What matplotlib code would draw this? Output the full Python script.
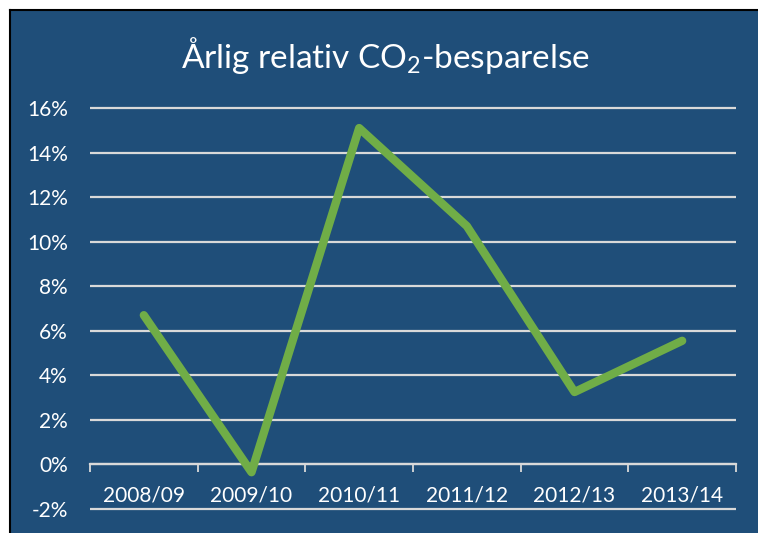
import matplotlib
matplotlib.use("Agg")
import matplotlib.pyplot as plt
from matplotlib.patches import Rectangle
from matplotlib.lines import Line2D
import numpy as np

categories = ["2008/09", "2009/10", "2010/11", "2011/12", "2012/13", "2013/14"]
values = [6.7, -0.35, 15.1, 10.7, 3.25, 5.55]
yticks = [-2, 0, 2, 4, 6, 8, 10, 12, 14, 16]
title = "Årlig relativ CO$_2$-besparelse"

BG = "#1F4E79"
GREEN = "#70AD47"
GRID = "#D9D9D9"

plt.rcParams["font.family"] = ["Lato", "DejaVu Sans"]
plt.rcParams["mathtext.fontset"] = "custom"
plt.rcParams["mathtext.rm"] = "Lato"
plt.rcParams["mathtext.it"] = "Lato:italic"
plt.rcParams["mathtext.bf"] = "Lato:bold"

W, H = 758, 533
fig = plt.figure(figsize=(W / 100, H / 100), dpi=100, facecolor="white")

# background panel with black top/left border
x0 = 9.5 / W
y1 = 1 - 9.5 / H
fig.patches.append(Rectangle((x0, 0), 1 - x0, y1, transform=fig.transFigure,
                             facecolor=BG, edgecolor="none", zorder=-10))
fig.lines.append(Line2D([x0, 1], [y1, y1], transform=fig.transFigure, color="black", lw=1.5, zorder=-9))
fig.lines.append(Line2D([x0, x0], [0, y1], transform=fig.transFigure, color="black", lw=1.5, zorder=-9))

px = 22.25  # px per 1%
ylo, yhi = -2.1, 16.1
bottom_px = 509 + 0.1 * px
top_px = 108 - 0.1 * px
ax = fig.add_axes([90 / W, (H - bottom_px) / H, 646 / W, (bottom_px - top_px) / H])
ax.set_facecolor("none")
ax.set_xlim(-0.5, len(categories) - 0.5)
ax.set_ylim(ylo, yhi)

x = np.arange(len(categories))
ax.plot(x, values, color=GREEN, lw=6, solid_joinstyle="round", solid_capstyle="round", zorder=3)

ax.set_yticks(yticks)
ax.set_yticklabels([f"{v}%" for v in yticks])
ax.tick_params(axis="y", length=0, pad=16, labelsize=15, labelcolor="white")
ax.yaxis.grid(True, color=GRID, lw=1.6)
ax.set_axisbelow(True)

for s in ["left", "right", "top"]:
    ax.spines[s].set_visible(False)
ax.spines["bottom"].set_position(("data", 0))
ax.spines["bottom"].set_color(GRID)
ax.spines["bottom"].set_linewidth(1.6)

ax.set_xticks(np.arange(len(categories) + 1) - 0.5)
ax.set_xticklabels([])
ax.tick_params(axis="x", which="major", length=5.5, width=1.3, color=GRID, direction="out")
ax.set_xticks(x, minor=True)
ax.set_xticklabels(categories, minor=True)
ax.tick_params(axis="x", which="minor", length=0, pad=15, labelsize=15, labelcolor="white")

fig.text(0.508, 1 - 55 / H, title, color="white", fontsize=24, ha="center", va="center")

fig.savefig("out.png", dpi=100, facecolor="white")
